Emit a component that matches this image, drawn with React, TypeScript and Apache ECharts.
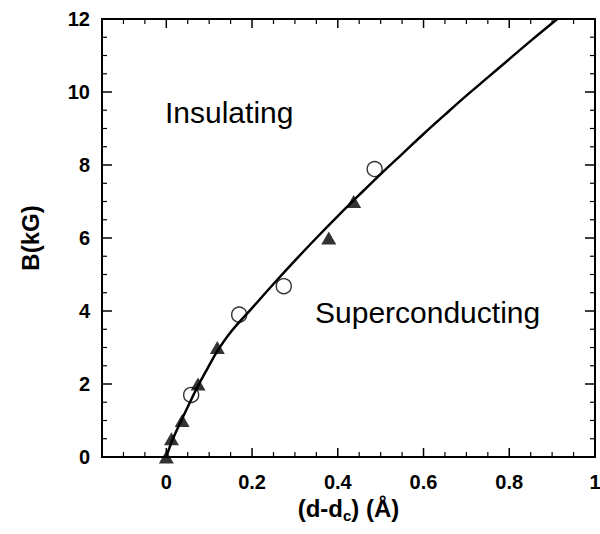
import React, { useEffect, useRef } from "react";
import * as echarts from "echarts";

const FONT = "'Liberation Sans', Arial, Helvetica, sans-serif";

// Curve B(d - dc)
const curveX = [0, 0.012, 0.037, 0.058, 0.074, 0.095, 0.119, 0.15, 0.2, 0.25, 0.3, 0.35, 0.4, 0.45, 0.5, 0.55, 0.6, 0.65, 0.7, 0.75, 0.8, 0.85, 0.912];
const curveY = [0, 0.4, 1.05, 1.57, 1.95, 2.4, 2.9, 3.42, 4.08, 4.74, 5.38, 6.0, 6.6, 7.18, 7.75, 8.3, 8.85, 9.38, 9.9, 10.4, 10.9, 11.4, 12.0];

// Filled triangles
const triX = [0, 0.012, 0.037, 0.074, 0.119, 0.379, 0.437];
const triY = [0, 0.5, 1.0, 2.0, 3.0, 6.0, 7.0];

// Open circles
const circX = [0.058, 0.17, 0.274, 0.486];
const circY = [1.7, 3.9, 4.68, 7.89];

// Tick values
const xMajor = [0, 0.2, 0.4, 0.6, 0.8, 1.0];
const xMinor = [-0.15, -0.1, -0.05, 0.05, 0.1, 0.15, 0.25, 0.3, 0.35, 0.45, 0.5, 0.55, 0.65, 0.7, 0.75, 0.85, 0.9, 0.95];
const yMajor = [0, 2, 4, 6, 8, 10, 12];
const yMinor = [0.5, 1, 1.5, 2.5, 3, 3.5, 4.5, 5, 5.5, 6.5, 7, 7.5, 8.5, 9, 9.5, 10.5, 11, 11.5];

const X_MIN = -0.15, X_MAX = 1.0, Y_MIN = 0, Y_MAX = 12;

export default function App() {
  const ref = useRef<HTMLDivElement>(null);
  useEffect(() => {
    if (!ref.current) return;
    const chart = echarts.init(ref.current, null, { renderer: "svg" });
    const labelStyle = { color: "#000", fontSize: 20, fontWeight: "bold" as const, fontFamily: FONT, showMinLabel: true, showMaxLabel: true };

    const frameRender = (_params: any, api: any) => {
      const bl = api.coord([X_MIN, Y_MIN]);
      const tr = api.coord([X_MAX, Y_MAX]);
      const left = bl[0], bottom = bl[1], right = tr[0], top = tr[1];
      const children: any[] = [];
      const tick = (x1: number, y1: number, x2: number, y2: number, w: number) =>
        children.push({ type: "line", shape: { x1, y1, x2, y2 }, style: { stroke: "#000", lineWidth: w } });
      xMajor.forEach((v) => {
        const px = api.coord([v, Y_MIN])[0];
        tick(px, bottom, px, bottom - 9, 1.5);
        tick(px, top, px, top + 9, 1.5);
      });
      xMinor.forEach((v) => {
        const px = api.coord([v, Y_MIN])[0];
        tick(px, bottom, px, bottom - 5, 1.2);
        tick(px, top, px, top + 5, 1.2);
      });
      yMajor.forEach((v) => {
        const py = api.coord([X_MIN, v])[1];
        tick(left, py, left + 10, py, 1.5);
        tick(right, py, right - 10, py, 1.5);
      });
      yMinor.forEach((v) => {
        const py = api.coord([X_MIN, v])[1];
        tick(left, py, left + 5, py, 1.2);
        tick(right, py, right - 5, py, 1.2);
      });
      children.push({
        type: "rect",
        shape: { x: left, y: top, width: right - left, height: bottom - top },
        style: { fill: "none", stroke: "#000", lineWidth: 2 },
      });
      return { type: "group", children };
    };

    chart.setOption({
      animation: false,
      backgroundColor: "#fff",
      grid: { left: 102, right: 5, top: 19, bottom: 77, outerBoundsMode: "none", containLabel: false },
      xAxis: {
        type: "value",
        min: X_MIN,
        max: X_MAX,
        axisLine: { show: false, onZero: false },
        axisTick: { show: false },
        axisLabel: { show: true, margin: 15, customValues: xMajor, ...labelStyle },
        splitLine: { show: false },
        name: "{m|(d-d}{s|c}{m|) (Å)}",
        nameLocation: "middle",
        nameGap: 30,
        nameTextStyle: {
          rich: {
            m: { fontSize: 24, fontWeight: "bold", fontFamily: FONT, color: "#000" },
            s: { fontSize: 15, fontWeight: "bold", fontFamily: FONT, color: "#000", padding: [14, 0, 0, 0] },
          },
        },
      },
      yAxis: {
        type: "value",
        min: Y_MIN,
        max: Y_MAX,
        axisLine: { show: false, onZero: false },
        axisTick: { show: false },
        axisLabel: { show: true, margin: 12, customValues: yMajor, ...labelStyle },
        splitLine: { show: false },
        name: "B(kG)",
        nameLocation: "middle",
        nameGap: 60,
        nameTextStyle: { fontSize: 24, fontWeight: "bold", fontFamily: FONT, color: "#000" },
      },
      graphic: [
        {
          type: "text",
          left: 165,
          top: 97,
          style: { text: "Insulating", fontSize: 30, fontFamily: FONT, fill: "#000" },
        },
        {
          type: "text",
          left: 315,
          top: 297,
          style: { text: "Superconducting", fontSize: 30, fontFamily: FONT, fill: "#000" },
        },
      ],
      series: [
        {
          type: "custom",
          data: [[X_MIN, Y_MIN]],
          renderItem: frameRender,
          clip: false,
          silent: true,
          z: 1,
        },
        {
          type: "line",
          data: curveX.map((x, i) => [x, curveY[i]]),
          showSymbol: false,
          symbol: "none",
          smooth: 0.4,
          lineStyle: { color: "#000", width: 2.5 },
          z: 2,
        },
        {
          type: "scatter",
          data: triX.map((x, i) => [x, triY[i]]),
          symbol: "triangle",
          symbolSize: [15, 13],
          itemStyle: { color: "#000" },
          clip: false,
          z: 3,
        },
        {
          type: "scatter",
          data: circX.map((x, i) => [x, circY[i]]),
          symbol: "circle",
          symbolSize: 15,
          itemStyle: { color: "rgba(0,0,0,0)", borderColor: "#000", borderWidth: 1.4 },
          clip: false,
          z: 3,
        },
      ],
    });
    return () => chart.dispose();
  }, []);
  return <div ref={ref} style={{ width: 600, height: 534, position: "absolute", left: 0, top: 0 }} />;
}
